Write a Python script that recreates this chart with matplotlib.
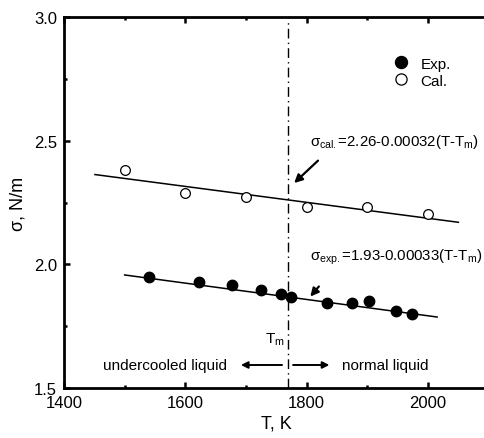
import matplotlib
matplotlib.use("Agg")
import matplotlib.pyplot as plt

plt.rcParams['font.family'] = ['Liberation Sans', 'DejaVu Sans']
plt.rcParams['mathtext.fontset'] = 'custom'
plt.rcParams['mathtext.rm'] = 'Liberation Sans'
plt.rcParams['mathtext.it'] = 'Liberation Sans:italic'

# data
exp_T = [1540, 1623, 1677, 1725, 1757, 1774, 1833, 1875, 1902, 1947, 1973]
exp_sigma = [1.950, 1.928, 1.917, 1.895, 1.881, 1.868, 1.842, 1.842, 1.853, 1.811, 1.800]
cal_T = [1500, 1600, 1700, 1800, 1900, 2000]
cal_sigma = [2.381, 2.288, 2.274, 2.230, 2.230, 2.204]
exp_fit_T = [1500, 2015]
exp_fit_sigma = [1.957, 1.787]
cal_fit_T = [1451, 2050]
cal_fit_sigma = [2.363, 2.170]
Tm = 1769

fig = plt.figure(figsize=(4.85, 4.39), dpi=100)
ax = fig.add_axes([64/485, 50/439, 424.7/485, 371/439])

ax.plot(exp_fit_T, exp_fit_sigma, color='black', lw=1.1)
ax.plot(cal_fit_T, cal_fit_sigma, color='black', lw=1.1)
ax.plot(exp_T, exp_sigma, 'o', color='black', ms=7.5, mec='black', label='Exp.', zorder=3)
ax.plot(cal_T, cal_sigma, 'o', mfc='white', mec='black', mew=0.9, ms=7, label='Cal.', zorder=3)
ax.plot([Tm, Tm], [1.5, 2.98], color='black', lw=1.0, linestyle=(0, (7, 3, 1, 3)))

ax.set_xlim(1400, 2100)
ax.set_ylim(1.5, 3.0)
ax.set_xticks([1400, 1600, 1800, 2000])
ax.set_xticks([1500, 1700, 1900], minor=True)
ax.set_yticks([1.5, 2.0, 2.5, 3.0])
ax.set_yticks([1.75, 2.25, 2.75], minor=True)
ax.set_yticklabels(['1.5', '2.0', '2.5', '3.0'])
ax.tick_params(which='both', direction='in', top=True, right=False, labelsize=12, width=1.8, pad=5)
ax.tick_params(which='major', length=4)
ax.tick_params(which='minor', length=2.5)
for s in ['left', 'bottom', 'top']:
    ax.spines[s].set_linewidth(2.0)
ax.spines['right'].set_visible(False)

ax.set_xlabel('T, K', fontsize=13, labelpad=3)
ax.set_ylabel('σ, N/m', fontsize=13, labelpad=5)

leg = ax.legend(loc='upper left', bbox_to_anchor=(0.76, 0.91), frameon=False,
                fontsize=11, handletextpad=0.8, labelspacing=0.2, handlelength=1.0,
                borderaxespad=0, markerscale=1.15)

ax.annotate('', xy=(1776, 2.321), xytext=(1822, 2.427),
            arrowprops=dict(arrowstyle='-|>', color='black', lw=1.6, mutation_scale=12))
ax.text(1806, 2.50, 'σ$_{\\rm cal.}$=2.26-0.00032(T-T$_{\\rm m}$)', fontsize=10.8,
        ha='left', va='center')
ax.annotate('', xy=(1803, 1.861), xytext=(1823, 1.919),
            arrowprops=dict(arrowstyle='-|>', color='black', lw=1.6, mutation_scale=12))
ax.text(1806, 2.033, 'σ$_{\\rm exp.}$=1.93-0.00033(T-T$_{\\rm m}$)', fontsize=10.8,
        ha='left', va='center')

ax.text(1747, 1.70, 'T$_{\\rm m}$', fontsize=11, ha='center', va='center')
ax.annotate('', xy=(1687, 1.593), xytext=(1764, 1.593),
            arrowprops=dict(arrowstyle='-|>', color='black', lw=1.4, mutation_scale=10))
ax.annotate('', xy=(1842, 1.593), xytext=(1773, 1.593),
            arrowprops=dict(arrowstyle='-|>', color='black', lw=1.4, mutation_scale=10))
ax.text(1567, 1.593, 'undercooled liquid', fontsize=11, ha='center', va='center')
ax.text(1929, 1.593, 'normal liquid', fontsize=11, ha='center', va='center')

fig.savefig('out.png', dpi=100)
